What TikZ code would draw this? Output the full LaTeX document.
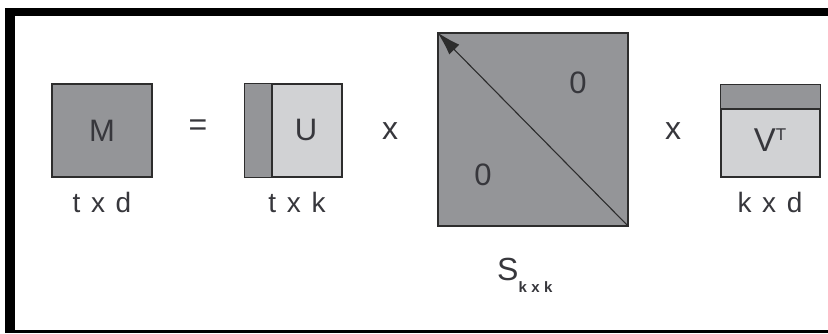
\documentclass[tikz,border=0pt]{standalone}
\usepackage{fontspec}
\setmainfont{Liberation Sans}
\usepackage{tikz}
\usetikzlibrary{arrows.meta}
\definecolor{fillDark}{RGB}{148, 149, 152}
\definecolor{fillLight}{RGB}{209, 210, 212}
\definecolor{edgeclr}{RGB}{45, 45, 45}
\definecolor{txtclr}{RGB}{55, 55, 60}
% Keng oraliqli o'lcham yozuvi
\newcommand{\dimsp}{\hspace{0.38em}}
\tikzset{
  % Matritsa bloklari
  matdark/.style   = {draw=edgeclr, fill=fillDark, line width=1.2pt, inner sep=0pt},
  matlight/.style  = {draw=edgeclr, fill=fillLight, line width=1.2pt, inner sep=0pt},
  % Matnlar
  bigtxt/.style    = {text=txtclr, inner sep=0pt, font=\fontsize{31}{31}\selectfont},
  dimtxt/.style    = {text=txtclr, inner sep=0pt, font=\fontsize{28}{28}\selectfont},
  optxt/.style     = {text=txtclr, inner sep=0pt, font=\fontsize{32}{32}\selectfont},
  % Diagonal strelka
  diagarrow/.style = {-{Latex[length=24pt,width=14pt]}, line width=1.1pt, draw=edgeclr, fill=edgeclr},
  % Ramka
  framebar/.style  = {fill=black},
}
\begin{document}
\begin{tikzpicture}[x=1pt,y=-1pt]
  \useasboundingbox (0,0) rectangle (828,333);
  % Ramka
  \fill[framebar] (5,8) rectangle (15,333);
  \fill[framebar] (5,8) rectangle (828,16);
  \fill[framebar] (5,330) rectangle (828,333);
  % M matritsa
  \node[matdark, minimum width=100pt, minimum height=93pt] (Mbox) at (102,130.5) {};
  \node[bigtxt] (Mlab) at (Mbox) {M};
  \node[dimtxt] (Mdim) at (102,202) {t\dimsp x\dimsp d};
  \node[optxt] (eq) at (198,128) {=};
  % U matritsa
  \node[matlight, minimum width=97pt, minimum height=93pt] (Ubox) at (293.5,130.5) {};
  \fill[fillDark] (Ubox.north west) rectangle (272,177);
  \draw[matlight, fill=none] (Ubox.north west) rectangle (Ubox.south east);
  \draw[edgeclr, line width=1.2pt] (272,84) -- (272,177);
  \node[bigtxt] (Ulab) at (306,130) {U};
  \node[dimtxt] (Udim) at (297,202) {t\dimsp x\dimsp k};
  \node[optxt] (x1) at (390,131) {x};
  % S matritsa
  \node[matdark, minimum width=190pt, minimum height=193pt] (Sbox) at (533,129.5) {};
  \draw[diagarrow] (Sbox.south east) -- (Sbox.north west);
  \node[bigtxt] (zeroA) at (578,83) {0};
  \node[bigtxt] (zeroB) at (483,175) {0};
  \node[text=txtclr, inner sep=0pt, anchor=base west] (Slab) at (497,280)
    {{\fontsize{32}{32}\selectfont S}\raisebox{-12pt}{\fontsize{15}{15}\selectfont\bfseries k\hspace{0.3em}x\hspace{0.3em}k}};
  \node[optxt] (x2) at (673,131) {x};
  % V^T matritsa
  \node[matlight, minimum width=99pt, minimum height=92pt] (Vbox) at (770.5,131) {};
  \fill[fillDark] (Vbox.north west) rectangle (820,109);
  \draw[matlight, fill=none] (Vbox.north west) rectangle (Vbox.south east);
  \draw[edgeclr, line width=1.2pt] (721,109) -- (820,109);
  \node[text=txtclr, inner sep=0pt] (Vlab) at (770,140)
    {{\fontsize{33}{33}\selectfont V}\raisebox{11pt}{\fontsize{17}{17}\selectfont T}};
  \node[dimtxt] (Vdim) at (770,202) {k\dimsp x\dimsp d};
\end{tikzpicture}
\end{document}
